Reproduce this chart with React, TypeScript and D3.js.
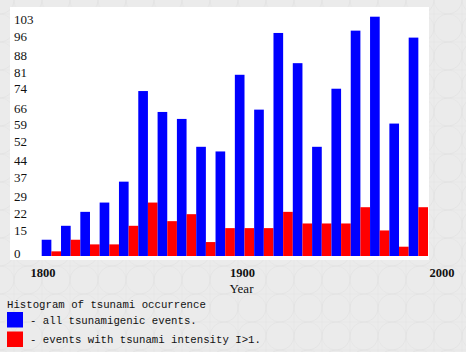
import { useMemo } from "react";
import * as d3 from "d3";

// decade bins, 1800s .. 1990s
const decades = d3.range(1800, 2000, 10);
const allEvents = [7, 13, 19, 23, 32, 71, 62, 59, 47, 45, 78, 63, 96, 83, 47, 72, 97, 103, 57, 94];
const strongEvents = [2, 7, 5, 5, 13, 23, 15, 18, 6, 12, 12, 12, 19, 14, 14, 14, 21, 11, 4, 21];

const yTickValues = [0, 15, 22, 29, 37, 44, 52, 59, 66, 74, 81, 88, 96, 103];
const xTickValues = [1800, 1900, 2000];

const legendTitle = "Histogram of tsunami occurrence";
const legendItems = [
    { color: "#0000ff", label: "- all tsunamigenic events." },
    { color: "#ff0000", label: "- events with tsunami intensity I>1." },
];

const WIDTH = 466;
const HEIGHT = 352;
const BASELINE = 256;
const TOP = 16.7;

export default function App() {
    const x = useMemo(() => d3.scaleLinear().domain([1800, 2000]).range([41.7, 428]), []);
    const y = useMemo(() => d3.scaleLinear().domain([0, 103]).range([BASELINE, TOP]), []);
    // the labels sit on evenly spaced rows, a little below the values they name
    const yLabel = useMemo(() => d3.scaleLinear().domain([0, 103]).range([266, 19.5]), []);
    const xLabel = useMemo(() => d3.scaleLinear().domain([1800, 2000]).range([43, 442]), []);

    const half = (x(1810) - x(1800)) / 2;

    return (
        <svg
            width={WIDTH}
            height={HEIGHT}
            style={{ position: "absolute", left: 0, top: 0, display: "block" }}
        >
            <defs>
                <pattern id="paper" width="28" height="28" patternUnits="userSpaceOnUse">
                    <rect width="28" height="28" fill="#ebebeb" />
                    <circle cx="0" cy="0" r="14" fill="none" stroke="#dcdcdc" strokeWidth="0.5" />
                    <circle cx="28" cy="28" r="14" fill="none" stroke="#dcdcdc" strokeWidth="0.5" />
                    <circle cx="28" cy="0" r="14" fill="none" stroke="#e0e0e0" strokeWidth="0.5" />
                    <circle cx="0" cy="28" r="14" fill="none" stroke="#e0e0e0" strokeWidth="0.5" />
                    <path d="M0,14 L28,14 M14,0 L14,28" stroke="#e2e2e2" strokeWidth="0.4" />
                </pattern>
            </defs>
            <rect width={WIDTH} height={HEIGHT} fill="url(#paper)" />
            <rect x={10} y={7} width={419} height={253} fill="#ffffff" />

            <g>
                {decades.map((d, i) => (
                    <g key={d}>
                        <rect
                            x={x(d)}
                            y={y(allEvents[i])}
                            width={half}
                            height={BASELINE - y(allEvents[i])}
                            fill="#0000ff"
                        />
                        <rect
                            x={x(d) + half}
                            y={y(strongEvents[i])}
                            width={half}
                            height={BASELINE - y(strongEvents[i])}
                            fill="#ff0000"
                        />
                    </g>
                ))}
            </g>

            <g fontFamily="'Liberation Serif', 'DejaVu Serif', serif" fontSize={13} fill="#111">
                {yTickValues.map((v) => (
                    <text key={v} x={14} y={Math.min(yLabel(v), BASELINE - 3)} dominantBaseline="central">
                        {v}
                    </text>
                ))}
            </g>

            <g fontFamily="'Liberation Serif', 'DejaVu Serif', serif" fontSize={12.5} fontWeight="bold" fill="#111">
                {xTickValues.map((v) => (
                    <text key={v} x={xLabel(v)} y={277} textAnchor="middle">
                        {v}
                    </text>
                ))}
            </g>
            <text
                x={241.5}
                y={293}
                textAnchor="middle"
                fontFamily="'Liberation Serif', 'DejaVu Serif', serif"
                fontSize={13}
                fill="#111"
            >
                Year
            </text>

            <g fontFamily="'Liberation Mono', 'DejaVu Sans Mono', monospace" fontSize={10.7} fill="#111">
                <text x={7} y={308}>{legendTitle}</text>
                {legendItems.map((item, i) => (
                    <g key={item.label} transform={`translate(0, ${312 + i * 19.5})`}>
                        <rect x={7} y={0} width={16} height={15.5} fill={item.color} />
                        <text x={30} y={11.5}>{item.label}</text>
                    </g>
                ))}
            </g>
        </svg>
    );
}
